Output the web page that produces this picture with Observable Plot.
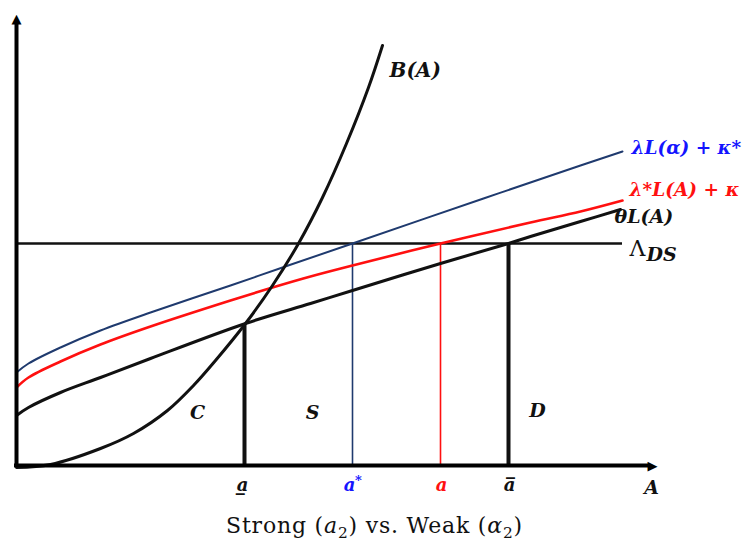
<!DOCTYPE html>
<html>
<head>
<meta charset="utf-8">
<script src="https://cdn.jsdelivr.net/npm/d3@7"></script>
<script src="https://cdn.jsdelivr.net/npm/@observablehq/plot@0.6"></script>
<style>
  body { margin: 0; background: #fff; }
  #chart svg { display: block; }
  #caption { font-family: "DejaVu Serif", serif; font-size: 22px; letter-spacing: 0.8px; text-align: center; margin-top: 13px; color: #111; }
  #caption sub { font-size: 0.7em; }
</style>
</head>
<body>
<div id="chart"></div>
<div id="caption">Strong (<i>a</i><sub>2</sub>) vs. Weak (<i>α</i><sub>2</sub>)</div>
<script>
// Curves (x = A, y = value)
const thetaX = [0, 12, 44, 84, 134, 229, 294, 336, 424, 492, 514, 564, 604];
const thetaY = [52, 60, 75, 90, 109, 144, 164, 177, 204, 224, 231, 246, 258];
const redX = [0, 12, 44, 84, 134, 214, 256, 294, 336, 424, 514, 564, 606];
const redY = [80, 90, 106, 123, 141, 167, 180, 191, 202, 224, 245, 256, 267];
const blueX = [0, 12, 44, 84, 134, 214, 266, 336, 467, 564, 606];
const blueY = [95, 104, 120, 137, 155, 182, 200, 224, 269, 302, 316];
const bX = [0, 34, 84, 117, 151, 177, 199, 229, 256, 282, 306, 330, 352, 366];
const bY = [0, 3, 19, 34, 57, 82, 107, 144, 182, 224, 270, 324, 380, 422];
const lambdaDS = 224;         // horizontal threshold level
const lambdaEnd = 606;
// Critical points on the A axis
const aLow = 228, aStar = 336, aRed = 424, aHigh = 492;
const aLowTop = 144;
const axisXEnd = 641, axisYEnd = 454;

const zip = (xs, ys) => xs.map((x, i) => ({x, y: ys[i]}));
const theta = zip(thetaX, thetaY);
const red = zip(redX, redY);
const blue = zip(blueX, blueY);
const bCurve = zip(bX, bY);

const serif = "DejaVu Serif";
const labelFont = {fontFamily: serif, fontWeight: "bold", fontStyle: "italic"};

const chart = Plot.plot({
  width: 749,
  height: 500,
  marginLeft: 16,
  marginRight: 89,
  marginTop: 15,
  marginBottom: 33,
  x: {domain: [0, 644], axis: null},
  y: {domain: [0, 452], axis: null},
  marks: [
    // threshold horizontal
    Plot.ruleY([lambdaDS], {x1: 0, x2: lambdaEnd, stroke: "#111", strokeWidth: 2.5}),
    // vertical drops
    Plot.ruleX([aLow], {y1: 0, y2: aLowTop, stroke: "#111", strokeWidth: 4}),
    Plot.ruleX([aHigh], {y1: 0, y2: lambdaDS, stroke: "#111", strokeWidth: 4}),
    Plot.ruleX([aStar], {y1: 0, y2: lambdaDS, stroke: "#1f3a6e", strokeWidth: 1.6}),
    Plot.ruleX([aRed], {y1: 0, y2: lambdaDS, stroke: "#ff1010", strokeWidth: 1.6}),
    // curves
    Plot.line(blue, {x: "x", y: "y", stroke: "#1f3a6e", strokeWidth: 2, curve: "catmull-rom"}),
    Plot.line(red, {x: "x", y: "y", stroke: "#ff1010", strokeWidth: 2.6, curve: "catmull-rom"}),
    Plot.line(theta, {x: "x", y: "y", stroke: "#111", strokeWidth: 3, curve: "catmull-rom"}),
    Plot.line(bCurve, {x: "x", y: "y", stroke: "#111", strokeWidth: 3, curve: "catmull-rom"}),
    // axes
    Plot.ruleY([2], {x1: -2, x2: axisXEnd - 8, stroke: "#000", strokeWidth: 4}),
    Plot.ruleX([0], {y1: 0, y2: axisYEnd - 8, stroke: "#000", strokeWidth: 4}),
    Plot.text([0], {x: axisXEnd, y: 2, text: () => "▶", fontFamily: "DejaVu Sans", fontSize: 13, textAnchor: "end", fill: "#000"}),
    Plot.text([0], {x: 0, y: axisYEnd, text: () => "▲", fontFamily: "DejaVu Sans", fontSize: 13, lineAnchor: "top", fill: "#000"}),
    // curve labels
    Plot.text([0], {x: 373, y: 397, text: () => "B(A)", textAnchor: "start", fontSize: 20, fill: "#111", ...labelFont}),
    Plot.text([0], {x: 615, y: 319, text: () => "λL(α) + κ*", textAnchor: "start", fontSize: 18.5, fill: "#1414ff", ...labelFont}),
    Plot.text([0], {x: 613, y: 277, text: () => "λ*L(A) + κ", textAnchor: "start", fontSize: 18.5, fill: "#ff1010", ...labelFont}),
    Plot.text([0], {x: 598, y: 251, text: () => "θL(A)", textAnchor: "start", fontSize: 19, fill: "#111", ...labelFont}),
    Plot.text([0], {x: 613, y: 219, text: () => "Λ", textAnchor: "start", fontSize: 22, fill: "#111", fontFamily: serif}),
    Plot.text([0], {x: 630, y: 213, text: () => "DS", textAnchor: "start", fontSize: 19, fill: "#111", ...labelFont}),
    // region labels
    Plot.text([0], {x: 181, y: 55, text: () => "C", fontSize: 19, fill: "#111", ...labelFont}),
    Plot.text([0], {x: 296, y: 55, text: () => "S", fontSize: 19, fill: "#111", ...labelFont}),
    Plot.text([0], {x: 521, y: 57, text: () => "D", fontSize: 19, fill: "#111", ...labelFont}),
    // axis labels
    Plot.text([0], {x: aLow - 2, y: -18, text: () => "a̲", fontSize: 18, fill: "#111", ...labelFont}),
    Plot.text([0], {x: aStar - 3, y: -18, text: () => "a", fontSize: 18, fill: "#1414ff", ...labelFont}),
    Plot.text([0], {x: aStar + 6, y: -13, text: () => "*", fontSize: 13, fill: "#1414ff", ...labelFont}),
    Plot.text([0], {x: aRed + 1, y: -18, text: () => "a", fontSize: 18, fill: "#ff1010", ...labelFont}),
    Plot.text([0], {x: aHigh + 1, y: -18, text: () => "a̅", fontSize: 18, fill: "#111", ...labelFont}),
    Plot.text([0], {x: 635, y: -20, text: () => "A", fontSize: 19, fill: "#111", ...labelFont})
  ]
});
document.getElementById("chart").appendChild(chart);
</script>
</body>
</html>
